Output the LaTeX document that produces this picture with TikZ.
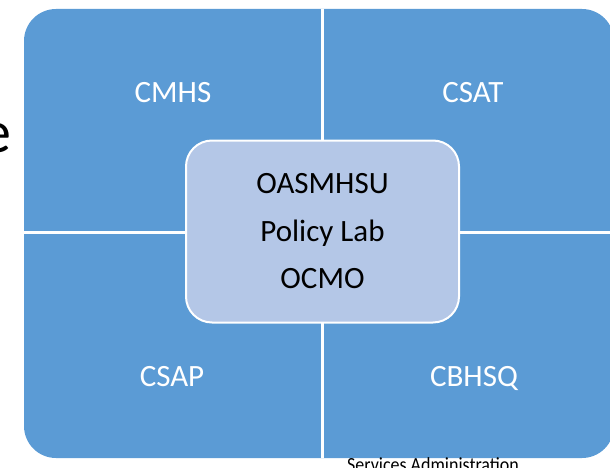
\documentclass[tikz,border=0pt]{standalone}
\usepackage{fontspec}
\setmainfont{Carlito}
\definecolor{quadblue}{HTML}{5B9BD5}
\definecolor{centerblue}{HTML}{B4C7E7}
\begin{document}
\begin{tikzpicture}[x=1pt,y=-1pt,
  quadlabel/.style={text=white,font=\fontsize{31}{31}\selectfont,anchor=base,inner sep=0},
  centerlabel/.style={text=black,font=\fontsize{31}{31}\selectfont,anchor=base,inner sep=0},
  divider/.style={draw=white,line width=3pt}]
\useasboundingbox (0,0) rectangle (610,468);
\clip (0,0) rectangle (610,468);
% outer matrix
\fill[quadblue,rounded corners=32pt] (24,9) rectangle (614,458);
\coordinate (vtop) at (322,9);
\coordinate (vbot) at (322,458);
\coordinate (hleft) at (24,232);
\coordinate (hright) at (614,232);
\draw[divider] (vtop) -- (vbot);
\draw[divider] (hleft) -- (hright);
% center box
\node[draw=white,line width=2pt,fill=centerblue,rounded corners=26pt,
      minimum width=273pt,minimum height=182pt,inner sep=0] (center) at (322.5,231.5) {};
\node[centerlabel] (l1) at (322.5,193) {OASMHSU};
\node[centerlabel] (l2) at (322.5,241) {Policy Lab};
\node[centerlabel] (l3) at (322.5,288) {OCMO};
% quadrant labels
\node[quadlabel] (cmhs) at (173,103) {CMHS};
\node[quadlabel] (csat) at (473,103) {CSAT};
\node[quadlabel] (csap) at (172,386) {CSAP};
\node[quadlabel] (cbhsq) at (474,386) {CBHSQ};
% cut-off texts
\node[anchor=base east,inner sep=0,font=\fontsize{60}{60}\selectfont] (e) at (12,153) {e};
\node[anchor=base,inner sep=0,xscale=0.9,font=\fontsize{20}{20}\selectfont] (sa) at (433,471.5) {Services Administration};
\end{tikzpicture}
\end{document}
